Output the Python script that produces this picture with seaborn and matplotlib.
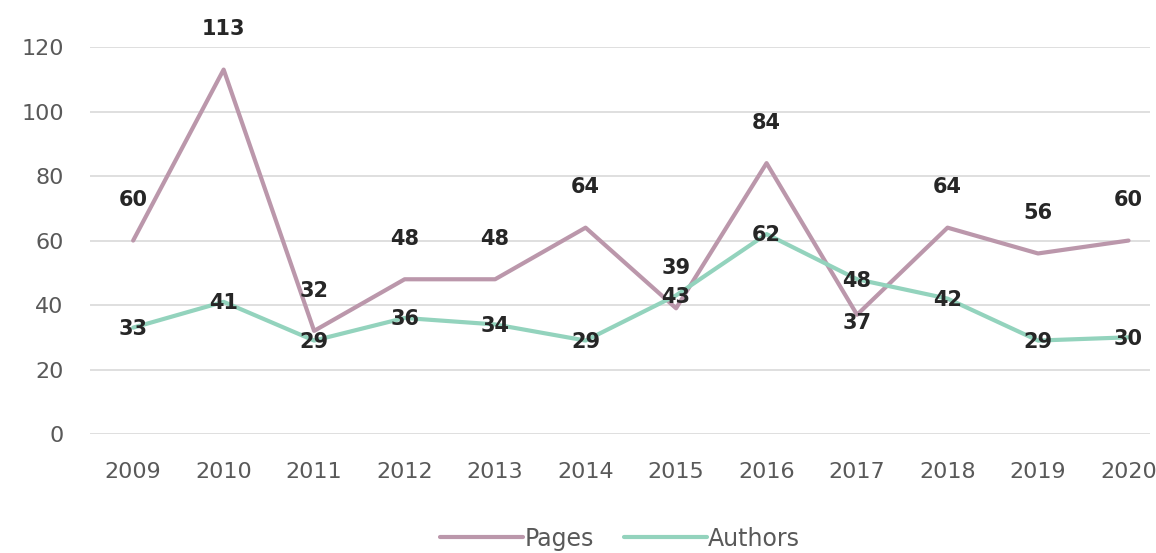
import pandas as pd
import matplotlib.pyplot as plt
import seaborn as sns

years = [2009, 2010, 2011, 2012, 2013, 2014, 2015, 2016, 2017, 2018, 2019, 2020]
pages = [60, 113, 32, 48, 48, 64, 39, 84, 37, 64, 56, 60]
authors = [33, 41, 29, 36, 34, 29, 43, 62, 48, 42, 29, 30]

sns.set_theme(style="white")
plt.rcParams['font.family'] = ['DejaVu Sans']

df = pd.DataFrame({"Year": [str(y) for y in years] * 2,
                   "Value": pages + authors,
                   "Series": ["Pages"] * len(years) + ["Authors"] * len(years)})

fig, ax = plt.subplots(figsize=(11.56, 5.53), dpi=100)
fig.subplots_adjust(left=0.078, right=0.995, top=0.915, bottom=0.215)

pal = {"Pages": "#bb97ab", "Authors": "#93d3bd"}
sns.lineplot(data=df, x="Year", y="Value", hue="Series", palette=pal,
             linewidth=3.0, sort=False, ax=ax)

lab = dict(ha="center", va="center", fontsize=15, fontweight="bold",
           color="#262626", textcoords="offset points")
for i, v in enumerate(pages):
    # pages labels sit above the line, except the 2017 dip which sits just below
    dy = -6 if years[i] == 2017 else 29
    ax.annotate(str(v), (i, v), xytext=(0, dy), **lab)
for i, v in enumerate(authors):
    ax.annotate(str(v), (i, v), xytext=(0, -1), **lab)

ax.set_ylim(0, 120)
ax.set_yticks(range(0, 121, 20))
ax.set_xlim(-0.475, 11.24)
ax.grid(axis="y", color="#d9d9d9", linewidth=1.2)
ax.set_axisbelow(True)
for s in ax.spines.values():
    s.set_visible(False)
ax.tick_params(axis="both", labelsize=16, labelcolor="#595959", length=0)
ax.tick_params(axis="x", pad=20)
ax.tick_params(axis="y", pad=19)
ax.set_xlabel("")
ax.set_ylabel("")

handles, labels = ax.get_legend_handles_labels()
ax.legend(handles, labels, loc="center", bbox_to_anchor=(0.5, -0.27), ncol=2,
          frameon=False, fontsize=17, labelcolor="#595959", handlelength=3.5,
          handletextpad=0.05, columnspacing=1.3)

plt.savefig("out.png")
